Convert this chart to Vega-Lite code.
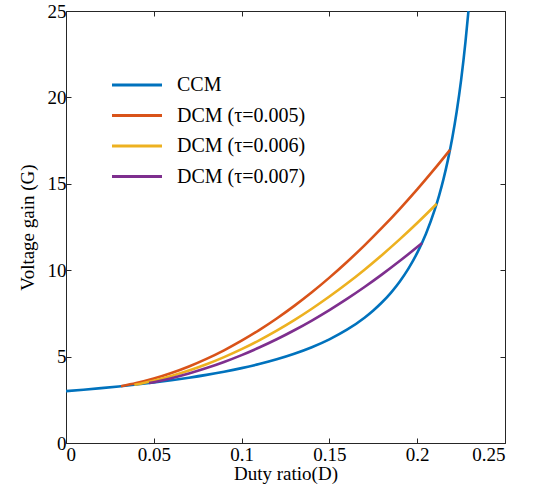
{
  "$schema": "https://vega.github.io/schema/vega-lite/v6.json",
  "width": 439,
  "height": 432,
  "autosize": {"type": "none"},
  "padding": {"left": 66, "top": 11, "right": 28, "bottom": 48},
  "config": {
    "view": {"stroke": null},
    "font": "Liberation Serif",
    "axis": {
      "grid": false,
      "domainColor": "#262626",
      "tickColor": "#262626",
      "labelColor": "#000000",
      "titleColor": "#000000",
      "labelFont": "Liberation Serif",
      "titleFont": "Liberation Serif",
      "labelFontSize": 19,
      "titleFontSize": 19,
      "titleFontWeight": "normal",
      "tickSize": -5,
      "domainWidth": 1,
      "tickWidth": 1
    }
  },
  "data": {
    "values": [
      {"s": "CCM", "D": 0, "G": 3},
      {"s": "CCM", "D": 0.01, "G": 3.083},
      {"s": "CCM", "D": 0.02, "G": 3.174},
      {"s": "CCM", "D": 0.03, "G": 3.273},
      {"s": "CCM", "D": 0.04, "G": 3.381},
      {"s": "CCM", "D": 0.05, "G": 3.5},
      {"s": "CCM", "D": 0.06, "G": 3.632},
      {"s": "CCM", "D": 0.07, "G": 3.778},
      {"s": "CCM", "D": 0.08, "G": 3.941},
      {"s": "CCM", "D": 0.09, "G": 4.125},
      {"s": "CCM", "D": 0.1, "G": 4.333},
      {"s": "CCM", "D": 0.11, "G": 4.571},
      {"s": "CCM", "D": 0.12, "G": 4.846},
      {"s": "CCM", "D": 0.13, "G": 5.167},
      {"s": "CCM", "D": 0.14, "G": 5.545},
      {"s": "CCM", "D": 0.15, "G": 6.0},
      {"s": "CCM", "D": 0.16, "G": 6.556},
      {"s": "CCM", "D": 0.17, "G": 7.25},
      {"s": "CCM", "D": 0.175, "G": 7.667},
      {"s": "CCM", "D": 0.18, "G": 8.143},
      {"s": "CCM", "D": 0.185, "G": 8.692},
      {"s": "CCM", "D": 0.19, "G": 9.333},
      {"s": "CCM", "D": 0.195, "G": 10.091},
      {"s": "CCM", "D": 0.2, "G": 11.0},
      {"s": "CCM", "D": 0.205, "G": 12.111},
      {"s": "CCM", "D": 0.21, "G": 13.5},
      {"s": "CCM", "D": 0.2125, "G": 14.333},
      {"s": "CCM", "D": 0.215, "G": 15.286},
      {"s": "CCM", "D": 0.2175, "G": 16.385},
      {"s": "CCM", "D": 0.22, "G": 17.667},
      {"s": "CCM", "D": 0.2225, "G": 19.182},
      {"s": "CCM", "D": 0.225, "G": 21.0},
      {"s": "CCM", "D": 0.2275, "G": 23.222},
      {"s": "CCM", "D": 0.229, "G": 24.81},
      {"s": "CCM", "D": 0.2292, "G": 25.0},

      {"s": "DCM (τ=0.005)", "D": 0.0313, "G": 3.286},
      {"s": "DCM (τ=0.005)", "D": 0.04, "G": 3.467},
      {"s": "DCM (τ=0.005)", "D": 0.05, "G": 3.73},
      {"s": "DCM (τ=0.005)", "D": 0.06, "G": 4.051},
      {"s": "DCM (τ=0.005)", "D": 0.07, "G": 4.431},
      {"s": "DCM (τ=0.005)", "D": 0.08, "G": 4.869},
      {"s": "DCM (τ=0.005)", "D": 0.09, "G": 5.365},
      {"s": "DCM (τ=0.005)", "D": 0.1, "G": 5.92},
      {"s": "DCM (τ=0.005)", "D": 0.11, "G": 6.533},
      {"s": "DCM (τ=0.005)", "D": 0.12, "G": 7.205},
      {"s": "DCM (τ=0.005)", "D": 0.13, "G": 7.935},
      {"s": "DCM (τ=0.005)", "D": 0.14, "G": 8.723},
      {"s": "DCM (τ=0.005)", "D": 0.15, "G": 9.57},
      {"s": "DCM (τ=0.005)", "D": 0.16, "G": 10.475},
      {"s": "DCM (τ=0.005)", "D": 0.17, "G": 11.439},
      {"s": "DCM (τ=0.005)", "D": 0.18, "G": 12.461},
      {"s": "DCM (τ=0.005)", "D": 0.19, "G": 13.541},
      {"s": "DCM (τ=0.005)", "D": 0.2, "G": 14.68},
      {"s": "DCM (τ=0.005)", "D": 0.21, "G": 15.877},
      {"s": "DCM (τ=0.005)", "D": 0.2187, "G": 16.966},

      {"s": "DCM (τ=0.006)", "D": 0.0389, "G": 3.368},
      {"s": "DCM (τ=0.006)", "D": 0.05, "G": 3.608},
      {"s": "DCM (τ=0.006)", "D": 0.06, "G": 3.876},
      {"s": "DCM (τ=0.006)", "D": 0.07, "G": 4.192},
      {"s": "DCM (τ=0.006)", "D": 0.08, "G": 4.557},
      {"s": "DCM (τ=0.006)", "D": 0.09, "G": 4.971},
      {"s": "DCM (τ=0.006)", "D": 0.1, "G": 5.433},
      {"s": "DCM (τ=0.006)", "D": 0.11, "G": 5.944},
      {"s": "DCM (τ=0.006)", "D": 0.12, "G": 6.504},
      {"s": "DCM (τ=0.006)", "D": 0.13, "G": 7.112},
      {"s": "DCM (τ=0.006)", "D": 0.14, "G": 7.769},
      {"s": "DCM (τ=0.006)", "D": 0.15, "G": 8.475},
      {"s": "DCM (τ=0.006)", "D": 0.16, "G": 9.229},
      {"s": "DCM (τ=0.006)", "D": 0.17, "G": 10.032},
      {"s": "DCM (τ=0.006)", "D": 0.18, "G": 10.884},
      {"s": "DCM (τ=0.006)", "D": 0.19, "G": 11.784},
      {"s": "DCM (τ=0.006)", "D": 0.2, "G": 12.733},
      {"s": "DCM (τ=0.006)", "D": 0.21, "G": 13.731},
      {"s": "DCM (τ=0.006)", "D": 0.2111, "G": 13.844},

      {"s": "DCM (τ=0.007)", "D": 0.0473, "G": 3.467},
      {"s": "DCM (τ=0.007)", "D": 0.05, "G": 3.521},
      {"s": "DCM (τ=0.007)", "D": 0.06, "G": 3.751},
      {"s": "DCM (τ=0.007)", "D": 0.07, "G": 4.022},
      {"s": "DCM (τ=0.007)", "D": 0.08, "G": 4.335},
      {"s": "DCM (τ=0.007)", "D": 0.09, "G": 4.689},
      {"s": "DCM (τ=0.007)", "D": 0.1, "G": 5.086},
      {"s": "DCM (τ=0.007)", "D": 0.11, "G": 5.524},
      {"s": "DCM (τ=0.007)", "D": 0.12, "G": 6.003},
      {"s": "DCM (τ=0.007)", "D": 0.13, "G": 6.525},
      {"s": "DCM (τ=0.007)", "D": 0.14, "G": 7.088},
      {"s": "DCM (τ=0.007)", "D": 0.15, "G": 7.693},
      {"s": "DCM (τ=0.007)", "D": 0.16, "G": 8.339},
      {"s": "DCM (τ=0.007)", "D": 0.17, "G": 9.028},
      {"s": "DCM (τ=0.007)", "D": 0.18, "G": 9.758},
      {"s": "DCM (τ=0.007)", "D": 0.19, "G": 10.529},
      {"s": "DCM (τ=0.007)", "D": 0.2, "G": 11.343},
      {"s": "DCM (τ=0.007)", "D": 0.2027, "G": 11.57}
    ]
  },
  "layer": [
    {
      "mark": {"type": "line", "strokeWidth": 2.6, "clip": true, "interpolate": "monotone"},
      "encoding": {
        "x": {
          "field": "D", "type": "quantitative",
          "scale": {"domain": [0, 0.25], "nice": false},
          "axis": {"values": [0, 0.05, 0.1, 0.15, 0.2, 0.25], "format": "~g", "title": "Duty ratio(D)", "labelPadding": 7, "titlePadding": 0}
        },
        "y": {
          "field": "G", "type": "quantitative",
          "scale": {"domain": [0, 25], "nice": false},
          "axis": {"values": [0, 5, 10, 15, 20, 25], "title": "Voltage gain (G)", "labelPadding": 5, "titlePadding": 10}
        },
        "color": {
          "field": "s", "type": "nominal",
          "scale": {
            "domain": ["CCM", "DCM (τ=0.005)", "DCM (τ=0.006)", "DCM (τ=0.007)"],
            "range": ["#0072BD", "#D95319", "#EDB120", "#7E2F8E"]
          },
          "legend": {
            "orient": "none", "legendX": 61, "legendY": 64,
            "title": null,
            "symbolType": "M-4,0H4", "symbolSize": 156.25, "symbolStrokeWidth": 3,
            "labelFont": "Liberation Serif", "labelFontSize": 20, "labelColor": "#000000",
            "labelOffset": 30, "rowPadding": 10.5
          }
        }
      }
    },
    {
      "mark": {"type": "line", "opacity": 0},
      "encoding": {
        "x": {"field": "D", "type": "quantitative", "axis": {"orient": "top", "values": [0, 0.05, 0.1, 0.15, 0.2, 0.25], "labels": false, "title": null}},
        "y": {"field": "G", "type": "quantitative", "axis": {"orient": "right", "values": [0, 5, 10, 15, 20, 25], "labels": false, "title": null}},
        "detail": {"field": "s"}
      }
    }
  ],
  "resolve": {"axis": {"x": "independent", "y": "independent"}}
}
